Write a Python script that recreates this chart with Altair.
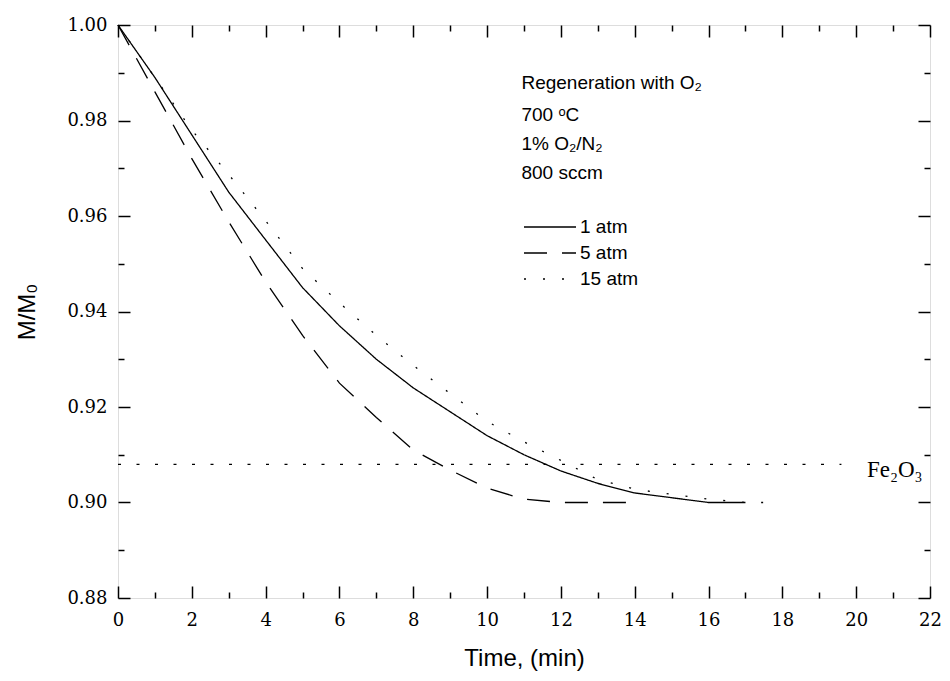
import altair as alt
import pandas as pd

# ---------------- data ----------------
series_names = ["1 atm", "5 atm", "15 atm"]

time_1atm = [0, 1, 2, 3, 4, 5, 6, 7, 8, 9, 10, 11, 12, 13, 14, 15, 16, 17]
mm0_1atm = [1.000, 0.989, 0.977, 0.965, 0.955, 0.945, 0.937, 0.930, 0.924,
            0.919, 0.914, 0.910, 0.9066, 0.904, 0.902, 0.901, 0.900, 0.900]

time_5atm = [0, 1, 2, 3, 4, 5, 6, 7, 8, 9, 10, 11, 12, 13, 14]
mm0_5atm = [1.000, 0.986, 0.972, 0.9588, 0.9462, 0.935, 0.925, 0.9178, 0.911,
            0.9068, 0.903, 0.9007, 0.900, 0.900, 0.900]

time_15atm = [0, 1, 2, 3, 4, 5, 6, 7, 8, 9, 10, 11, 12, 13, 14, 15, 16, 17, 17.7]
mm0_15atm = [1.000, 0.989, 0.978, 0.9687, 0.959, 0.949, 0.9418, 0.935, 0.9287,
             0.9228, 0.917, 0.9127, 0.9088, 0.9048, 0.9028, 0.9017, 0.9007, 0.900, 0.900]

fe2o3_time = [0, 19.6]
fe2o3_level = [0.908, 0.908]
fe2o3_label = ["Fe₂O₃"]
fe2o3_label_time = [20.29]
fe2o3_label_level = [0.9053]

notes_text = ["Regeneration with O₂", "700 ᵒC", "1% O₂/N₂", "800 sccm"]
notes_time = [10.93, 10.93, 10.93, 10.93]
notes_level = [0.9867, 0.9798, 0.9739, 0.9677]

x_major = [0, 2, 4, 6, 8, 10, 12, 14, 16, 18, 20, 22]
x_minor = [1, 3, 5, 7, 9, 11, 13, 15, 17, 19, 21]
y_major = [0.88, 0.90, 0.92, 0.94, 0.96, 0.98, 1.00]
y_minor = [0.89, 0.91, 0.93, 0.95, 0.97, 0.99]

# ---------------- build tables ----------------
rows = []
for name, ts, ms in [("1 atm", time_1atm, mm0_1atm),
                     ("5 atm", time_5atm, mm0_5atm),
                     ("15 atm", time_15atm, mm0_15atm)]:
    for t, m in zip(ts, ms):
        rows.append({"series": name, "t": t, "m": m})
curves = pd.DataFrame(rows)
fe_df = pd.DataFrame({"t": fe2o3_time, "m": fe2o3_level})
fe_lab = pd.DataFrame({"t": fe2o3_label_time, "m": fe2o3_label_level, "label": fe2o3_label})
notes = pd.DataFrame({"t": notes_time, "m": notes_level, "label": notes_text})

W, H = 812, 573
xs = alt.Scale(domain=[0, 22], nice=False, zero=False)
ys = alt.Scale(domain=[0.88, 1.0], nice=False, zero=False)

LABEL_FONT = "DejaVu Serif, Liberation Serif, serif"
SANS = "Liberation Sans, Arial, sans-serif"

lines = alt.Chart(curves).mark_line(color="black", strokeWidth=1.3).encode(
    x=alt.X("t:Q", scale=xs, title="Time, (min)",
            axis=alt.Axis(orient="bottom", values=x_major, ticks=False, domain=False,
                          grid=False, labelFont=LABEL_FONT, labelFontSize=18,
                          labelPadding=13, labelColor="black", labelFlush=False,
                          labelOverlap=False, titleFont=SANS, titleFontSize=24,
                          titleFontWeight="normal", titleColor="black", titlePadding=17)),
    y=alt.Y("m:Q", scale=ys, title="M/M₀",
            axis=alt.Axis(orient="left", values=y_major, format=".2f", ticks=False,
                          domain=False, grid=False, labelFont=LABEL_FONT, labelFontSize=18,
                          labelPadding=11, labelColor="black", labelOverlap=False,
                          titleFont=SANS, titleFontSize=24, titleFontWeight="normal",
                          titleColor="black", titlePadding=27)),
    strokeDash=alt.StrokeDash(
        "series:N",
        scale=alt.Scale(domain=series_names, range=[[1, 0], [23, 15], [2, 17]]),
        legend=alt.Legend(title=None, orient="none", legendX=405, legendY=189,
                          symbolType="stroke", symbolSize=2704, symbolStrokeWidth=1.3,
                          symbolStrokeColor="black", labelFont=SANS, labelFontSize=19,
                          labelColor="black", labelOffset=3, clipHeight=26,
                          rowPadding=0, padding=0)),
)

fe_line = alt.Chart(fe_df).mark_line(color="black", strokeWidth=1.3,
                                     strokeDash=[3, 15.5]).encode(
    x=alt.X("t:Q", scale=xs, axis=None),
    y=alt.Y("m:Q", scale=ys, axis=None),
)

fe_text = alt.Chart(fe_lab).mark_text(align="left", baseline="alphabetic",
                                      font="Liberation Serif, serif", fontSize=23,
                                      color="black").encode(
    x=alt.X("t:Q", scale=xs, axis=None),
    y=alt.Y("m:Q", scale=ys, axis=None),
    text="label:N",
)

note_text = alt.Chart(notes).mark_text(align="left", baseline="alphabetic",
                                       font=SANS, fontSize=19, color="black").encode(
    x=alt.X("t:Q", scale=xs, axis=None),
    y=alt.Y("m:Q", scale=ys, axis=None),
    text="label:N",
)


def tick_layer(ch, orient, values, size, offset):
    base = alt.Chart(fe_df).mark_point(opacity=0)
    ax = alt.Axis(orient=orient, values=values, tickSize=size, tickWidth=1.5,
                  tickColor="black", labels=False, domain=False, grid=False,
                  offset=offset)
    if ch == "x":
        return base.encode(x=alt.X("t:Q", scale=xs, title=None, axis=ax),
                           y=alt.Y("m:Q", scale=ys, axis=None))
    return base.encode(x=alt.X("t:Q", scale=xs, axis=None),
                       y=alt.Y("m:Q", scale=ys, title=None, axis=ax))


ticks = [
    tick_layer("x", "top", x_major, 12, -H),
    tick_layer("x", "top", x_minor, 6, -H),
    tick_layer("x", "bottom", x_major, 12, -H),
    tick_layer("x", "bottom", x_minor, 6, -H),
    tick_layer("y", "right", y_major, 12, -W),
    tick_layer("y", "right", y_minor, 6, -W),
    tick_layer("y", "left", y_major, 12, -W),
    tick_layer("y", "left", y_minor, 6, -W),
]

chart = alt.layer(lines, fe_line, fe_text, note_text, *ticks).resolve_axis(
    x="independent", y="independent"
).properties(
    width=W, height=H,
    autosize=alt.AutoSizeParams(type="none"),
    padding={"left": 110, "top": 17, "right": 12, "bottom": 80},
).configure_view(stroke="black", strokeWidth=2).configure(background="white")

chart.save("out.html", embed_options={"renderer": "svg", "actions": False})
